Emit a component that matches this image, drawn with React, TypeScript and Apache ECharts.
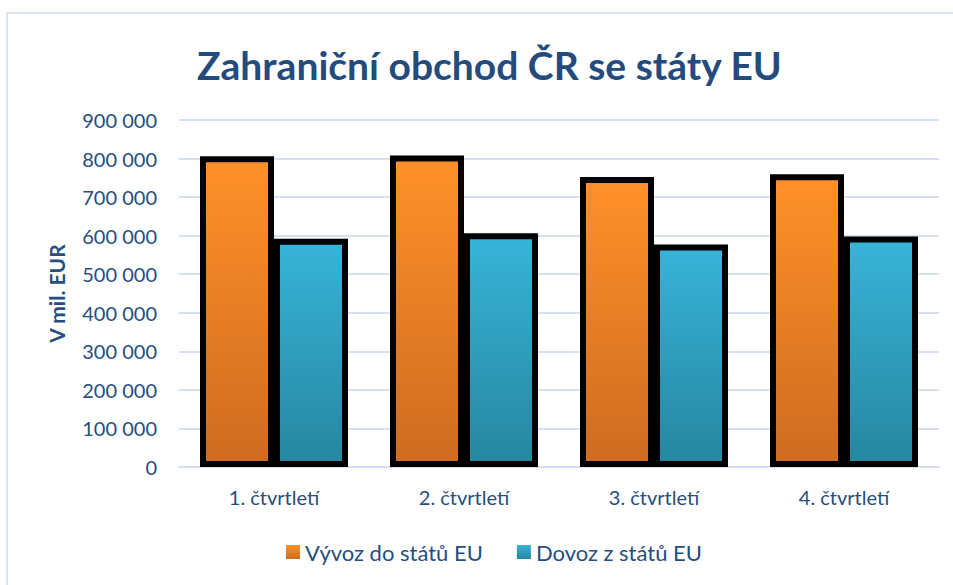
import React, { useEffect, useRef } from "react";
import * as echarts from "echarts";

const categories = ["1. čtvrtletí", "2. čtvrtletí", "3. čtvrtletí", "4. čtvrtletí"];
const exportName = "Vývoz do států EU";
const importName = "Dovoz z států EU";
const exportValues = [806000, 808000, 752000, 759000];
const importValues = [592000, 606000, 577000, 598000];
const titleText = "Zahraniční obchod ČR se státy EU";
const yAxisName = "V mil. EUR";

const FONT = "Lato, 'Open Sans', sans-serif";
const TEXT_COLOR = "#264E7E";

function grad(top: string, bottom: string) {
  return new echarts.graphic.LinearGradient(0, 0, 0, 1, [
    { offset: 0, color: top },
    { offset: 1, color: bottom },
  ]);
}

export default function App() {
  const ref = useRef<HTMLDivElement>(null);
  useEffect(() => {
    if (!ref.current) return;
    const chart = echarts.init(ref.current, null, { renderer: "svg" });
    chart.setOption({
      animation: false,
      backgroundColor: "#ffffff",
      textStyle: { fontFamily: FONT },
      title: {
        text: titleText,
        left: 192,
        top: 40,
        textStyle: { fontFamily: FONT, fontWeight: "bold", fontSize: 39, color: "#234B7D" },
      },
      graphic: [
        {
          type: "rect",
          shape: { x: 7, y: 13, width: 1000, height: 1000 },
          style: { fill: "none", stroke: "#D9E4F4", lineWidth: 2 },
          silent: true,
        },
      ],
      legend: {
        bottom: 17,
        left: 281,
        itemWidth: 14,
        itemHeight: 14,
        itemGap: 34,
        icon: "rect",
        textStyle: { fontFamily: FONT, fontSize: 22, color: TEXT_COLOR },
        itemStyle: { borderWidth: 0 },
        data: [exportName, importName],
      },
      grid: { left: 179, right: 14, top: 120, bottom: 118 },
      xAxis: {
        type: "category",
        data: categories,
        axisLine: { show: true, lineStyle: { color: "#D5E1F3", width: 2 } },
        axisTick: { show: false },
        axisLabel: { fontFamily: FONT, fontSize: 20, color: TEXT_COLOR, margin: 20 },
      },
      yAxis: {
        type: "value",
        min: 0,
        max: 900000,
        interval: 100000,
        name: yAxisName,
        nameLocation: "middle",
        nameGap: 112,
        nameTextStyle: { fontFamily: FONT, fontSize: 21, fontWeight: "bold", color: TEXT_COLOR },
        axisLine: { show: false },
        axisTick: { show: false },
        splitLine: { lineStyle: { color: "#D5E1F3", width: 2 } },
        axisLabel: {
          fontFamily: FONT,
          fontSize: 20,
          color: TEXT_COLOR,
          margin: 22,
          formatter: (v: number) => v.toLocaleString("en-US").replace(/,/g, " "),
        },
      },
      series: [
        {
          name: exportName,
          type: "bar",
          data: exportValues,
          barWidth: 74,
          barGap: "0%",
          itemStyle: {
            color: grad("#FF9129", "#CE6B20"),
            borderColor: "#000000",
            borderWidth: 6,
          },
        },
        {
          name: importName,
          type: "bar",
          data: importValues,
          barWidth: 74,
          itemStyle: {
            color: grad("#37B4D9", "#26869F"),
            borderColor: "#000000",
            borderWidth: 6,
          },
        },
      ],
    });
    return () => chart.dispose();
  }, []);
  return (
    <div
      ref={ref}
      style={{ position: "absolute", left: 0, top: 0, width: 953, height: 585 }}
    />
  );
}
